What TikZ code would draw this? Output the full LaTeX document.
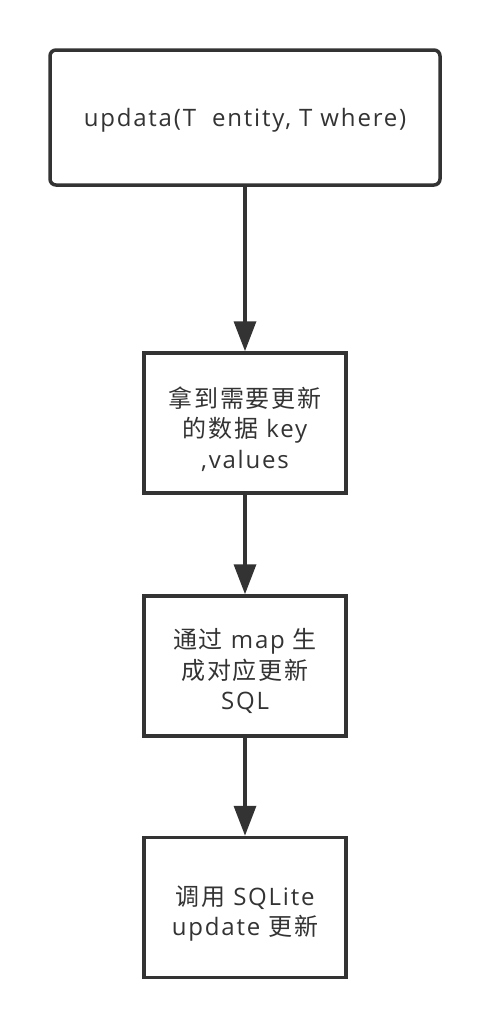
\documentclass[tikz,border=0pt]{standalone}
\usepackage{fontspec}
\setmainfont{Open Sans}[LetterSpace=7.5]
\newfontfamily\cjk{Noto Sans CJK SC}[LetterSpace=7.5]
\usetikzlibrary{arrows.meta}
\definecolor{ink}{HTML}{333333}
\begin{document}
\begin{tikzpicture}[x=1pt,y=-1pt,
  box/.style={draw=ink,line width=3.5pt,fill=white,inner sep=0pt},
  lbl/.style={text=ink,align=center,font=\fontsize{24}{30.5}\selectfont,inner sep=0pt},
  flow/.style={draw=ink,line width=3.5pt,-{Triangle[length=30pt,width=22pt]}}]
\useasboundingbox (0,0) rectangle (490,1028);
\node[box,rounded corners=6pt,minimum width=390pt,minimum height=135pt,
  label={[lbl,yshift=-3pt]center:updata(T\ \ entity, T where)}] (a) at (245,117.5) {};
\node[box,minimum width=202pt,minimum height=140pt,
  label={[lbl,yshift=-6pt]center:{\cjk 拿到需要更新}\\{\cjk 的数据} key\\,values}] (b) at (245,423) {};
\node[box,minimum width=202pt,minimum height=140pt,
  label={[lbl,yshift=-5pt]center:{\cjk 通过} map {\cjk 生}\\{\cjk 成对应更新}\\SQL}] (c) at (245,666) {};
\node[box,minimum width=202pt,minimum height=140pt,
  label={[lbl,yshift=-6pt]center:{\cjk 调用} SQLite\\update {\cjk 更新}}] (d) at (245,907.5) {};
\draw[flow] (a) -- (b);
\draw[flow] (b) -- (c);
\draw[flow] (c) -- (d);
\end{tikzpicture}
\end{document}
